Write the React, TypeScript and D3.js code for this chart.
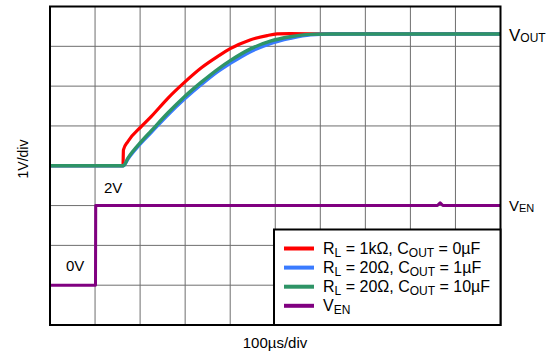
import React from "react";
import * as d3 from "d3";

// time in µs, voltage in V
const redT = [0, 162, 163, 173, 203, 225, 262, 299, 336, 373, 400, 444, 482, 504, 533, 620, 700, 800, 900, 1000];
const redV = [0, 0, 0.4, 0.61, 0.99, 1.24, 1.7, 2.1, 2.46, 2.75, 2.94, 3.16, 3.27, 3.31, 3.32, 3.31, 3.32, 3.31, 3.32, 3.31];

const greenT = [0, 163, 173, 203, 225, 262, 299, 336, 373, 400, 444, 489, 533, 578, 622, 700, 800, 900, 1000];
const greenV = [0, 0, 0.19, 0.61, 0.88, 1.33, 1.74, 2.1, 2.43, 2.64, 2.93, 3.13, 3.24, 3.3, 3.31, 3.31, 3.31, 3.31, 3.31];

const blueT = [0, 163, 173, 203, 225, 262, 299, 336, 373, 400, 444, 489, 533, 578, 622, 700, 800, 900, 1000];
const blueV = [0, 0, 0.17, 0.58, 0.84, 1.28, 1.68, 2.04, 2.37, 2.57, 2.86, 3.07, 3.2, 3.29, 3.31, 3.31, 3.31, 3.31, 3.31];

const enT = [0, 101, 101.5, 200, 400, 600, 860, 866, 872, 1000];
const enV = [0, 0, 2, 2, 2, 2, 2, 2.07, 2, 2];

const VOUT_OFFSET = 4; // divisions
const VEN_OFFSET = 1;

const legendItems = [
  { color: "#ff0000", main: "R", sub: "L", rest: " = 1kΩ, C", sub2: "OUT", tail: " = 0µF" },
  { color: "#3a7bff", main: "R", sub: "L", rest: " = 20Ω, C", sub2: "OUT", tail: " = 1µF" },
  { color: "#2e9466", main: "R", sub: "L", rest: " = 20Ω, C", sub2: "OUT", tail: " = 10µF" },
  { color: "#800080", main: "V", sub: "EN", rest: "", sub2: "", tail: "" },
];

const W = 547;
const H = 356;
const L = 50, R = 500.5, T = 6.5, B = 325;

export default function App() {
  const x = d3.scaleLinear().domain([0, 1000]).range([L, R]);
  const y = d3.scaleLinear().domain([0, 8]).range([B, T]);
  const mk = (ts: number[], vs: number[], off: number) =>
    d3.line<number>().x((_, i) => x(ts[i])).y((v) => y(v + off)).curve(d3.curveMonotoneX)(vs) || "";

  const xt = d3.range(1, 10).map((d) => d * 100);
  const yt = d3.range(1, 8);
  const font = "Arial, 'Liberation Sans', sans-serif";

  return (
    <svg width={W} height={H} style={{ position: "absolute", left: 0, top: 0 }} fontFamily={font}>
      <rect x={0} y={0} width={W} height={H} fill="white" />
      <g stroke="#6e6e6e" strokeWidth={1}>
        {xt.map((t) => (
          <line key={"x" + t} x1={x(t)} x2={x(t)} y1={T} y2={B} />
        ))}
        {yt.map((t) => (
          <line key={"y" + t} x1={L} x2={R} y1={y(t)} y2={y(t)} />
        ))}
      </g>
      <g fill="none" strokeLinejoin="round">
        <path d={mk(redT, redV, VOUT_OFFSET)} stroke="#ff0000" strokeWidth={3.2} />
        <path d={mk(blueT, blueV, VOUT_OFFSET)} stroke="#3a7bff" strokeWidth={3.4} />
        <path d={mk(greenT, greenV, VOUT_OFFSET)} stroke="#2e9466" strokeWidth={3.4} />
        <path d={d3.line<number>().x((_, i) => x(enT[i])).y((v) => y(v + VEN_OFFSET))(enV) || ""} stroke="#800080" strokeWidth={3} />
      </g>
      <rect x={L} y={T} width={R - L} height={B - T} fill="none" stroke="black" strokeWidth={2} />

      {/* legend */}
      <rect x={274} y={229.5} width={R - 274} height={B - 229.5} fill="white" stroke="black" strokeWidth={2} />
      {legendItems.map((it, i) => {
        const cy = 248.5 + i * 19.1;
        return (
          <g key={i}>
            <line x1={284} x2={314} y1={cy} y2={cy} stroke={it.color} strokeWidth={4} />
            <text x={323} y={cy + 5.5} fontSize={16} fill="black">
              {it.main}
              <tspan fontSize={12} dy={3}>{it.sub}</tspan>
              {it.rest && <tspan dy={-3}>{it.rest}</tspan>}
              {it.sub2 && <tspan fontSize={12} dy={3}>{it.sub2}</tspan>}
              {it.tail && <tspan dy={-3}>{it.tail}</tspan>}
            </text>
          </g>
        );
      })}

      {/* trace labels */}
      <text x={509} y={41} fontSize={17} fill="black">
        V<tspan fontSize={12} dy={1}>OUT</tspan>
      </text>
      <text x={509} y={211} fontSize={15} fill="black">
        V<tspan fontSize={11} dy={1}>EN</tspan>
      </text>
      <text x={104} y={193} fontSize={15} fill="black">2V</text>
      <text x={66} y={271} fontSize={15} fill="black">0V</text>

      <text transform={`translate(28,159) rotate(-90)`} textAnchor="middle" fontSize={14} fill="black">1V/div</text>
      <text x={275} y={348} textAnchor="middle" fontSize={15} fill="black">100µs/div</text>
    </svg>
  );
}
